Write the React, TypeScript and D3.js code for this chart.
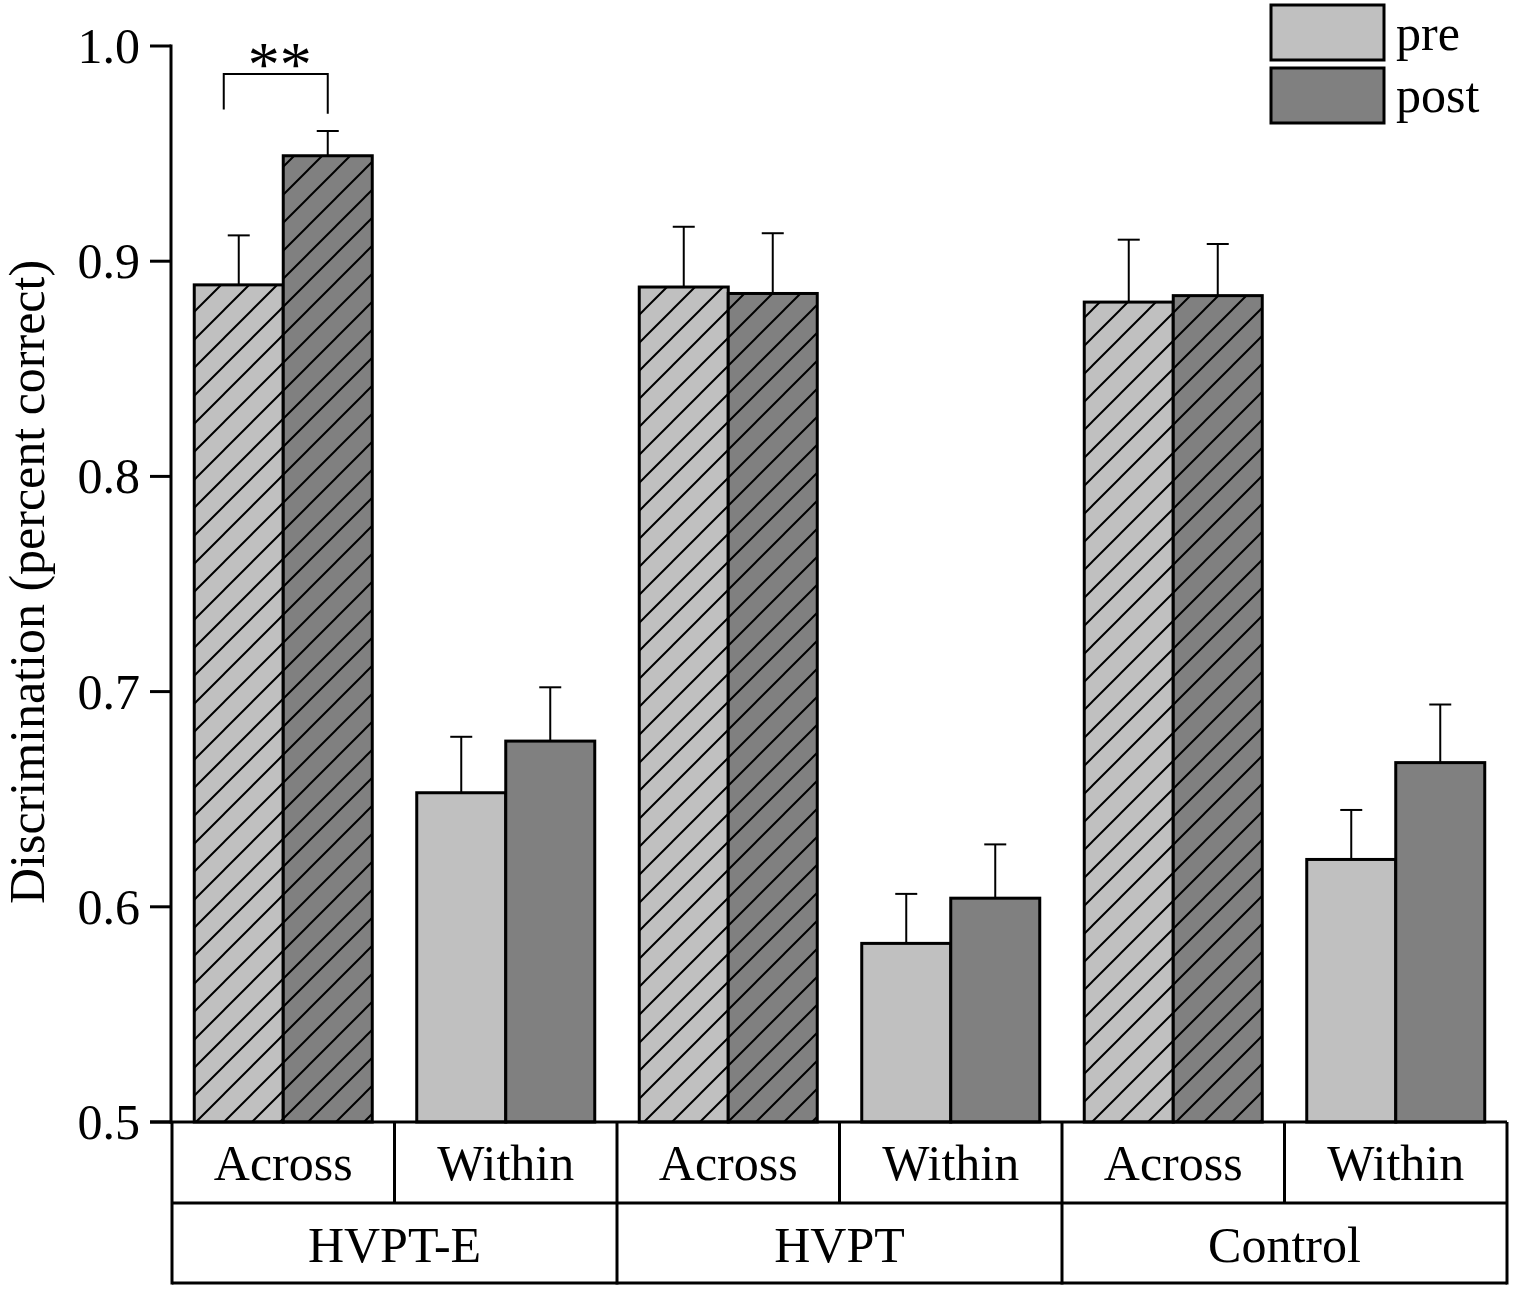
import React from "react";
import * as d3 from "d3";

const groups = ["HVPT-E", "HVPT", "Control"];
const conditions = ["Across", "Within"];
const series = ["pre", "post"];
// values per cell: order HVPT-E Across, HVPT-E Within, HVPT Across, HVPT Within, Control Across, Control Within
const preValues = [0.889, 0.653, 0.888, 0.583, 0.881, 0.622];
const preErrTop = [0.912, 0.679, 0.916, 0.606, 0.910, 0.645];
const postValues = [0.949, 0.677, 0.885, 0.604, 0.884, 0.667];
const postErrTop = [0.9605, 0.702, 0.913, 0.629, 0.908, 0.694];
const yTicks = [0.5, 0.6, 0.7, 0.8, 0.9, 1.0];
const yTitle = "Discrimination (percent correct)";
const sigLabel = "**";

const W = 1514;
const H = 1291;
const FONT = "'Liberation Serif', 'Times New Roman', serif";
const colors: Record<string, string> = { pre: "#c0c0c0", post: "#808080" };

export default function App() {
  const x0 = 172;
  const x1 = 1507;
  const yTop = 46;
  const yBot = 1122;
  const row1 = 1203;
  const row2 = 1283;
  const axisX = 171;

  const y = d3.scaleLinear().domain([0.5, 1.0]).range([yBot, yTop]);
  const cells = groups.flatMap((g) => conditions.map((c) => `${g}|${c}`));
  const xCell = d3.scaleBand<string>().domain(cells).range([x0, x1]).padding(0);
  const bw = xCell.bandwidth();
  const xSub = d3.scaleBand<string>().domain(series).range([bw * 0.1, bw * 0.9]).padding(0);
  const xGroup = d3.scaleBand<string>().domain(groups).range([x0, x1]).padding(0);

  const vals: Record<string, number[]> = { pre: preValues, post: postValues };
  const errs: Record<string, number[]> = { pre: preErrTop, post: postErrTop };

  const bars: React.ReactNode[] = [];
  cells.forEach((cell, i) => {
    const hatched = cell.endsWith("Across");
    series.forEach((s) => {
      const bx = (xCell(cell) as number) + (xSub(s) as number);
      const v = vals[s][i];
      const e = errs[s][i];
      const cx = bx + xSub.bandwidth() / 2;
      bars.push(
        <g key={cell + s}>
          <line x1={cx} x2={cx} y1={y(v)} y2={y(e)} stroke="#000" strokeWidth={2} />
          <line x1={cx - 11} x2={cx + 11} y1={y(e)} y2={y(e)} stroke="#000" strokeWidth={2} />
          <rect
            x={bx}
            y={y(v)}
            width={xSub.bandwidth()}
            height={yBot - y(v)}
            fill={hatched ? `url(#hatch-${s})` : colors[s]}
            stroke="#000"
            strokeWidth={3}
          />
        </g>
      );
    });
  });

  // significance bracket for HVPT-E Across
  const c0 = cells[0];
  const preCx = (xCell(c0) as number) + (xSub("pre") as number) + xSub.bandwidth() / 2 - 15;
  const postCx = (xCell(c0) as number) + (xSub("post") as number) + xSub.bandwidth() / 2;
  const bracketTop = y(0.987);

  return (
    <svg width={W} height={H} style={{ position: "absolute", left: 0, top: 0, background: "#fff" }} fontFamily={FONT}>
      <defs>
        {series.map((s) => (
          <pattern key={s} id={`hatch-${s}`} patternUnits="userSpaceOnUse" width={28} height={28} x={0} y={yBot}>
            <rect width={28} height={28} fill={colors[s]} />
            <path d="M0,28 L28,0 M-7,7 L7,-7 M21,35 L35,21" stroke="#000" strokeWidth={2} />
          </pattern>
        ))}
      </defs>
      <rect x={0} y={0} width={W} height={H} fill="#fff" />
      {bars}
      {/* y axis */}
      <line x1={axisX} x2={axisX} y1={yTop - 1.5} y2={yBot + 1.5} stroke="#000" strokeWidth={3} />
      {yTicks.map((t) => (
        <g key={t}>
          <line x1={150} x2={axisX} y1={y(t)} y2={y(t)} stroke="#000" strokeWidth={3} />
          <text x={140} y={y(t) + 17} fontSize={50} textAnchor="end">
            {d3.format(".1f")(t)}
          </text>
        </g>
      ))}
      <text transform={`translate(44, 582) rotate(-90)`} fontSize={50} textAnchor="middle">
        {yTitle}
      </text>
      {/* table */}
      <line x1={150} x2={x1} y1={yBot} y2={yBot} stroke="#000" strokeWidth={3} />
      <line x1={x0} x2={x1} y1={row1} y2={row1} stroke="#000" strokeWidth={3} />
      <line x1={x0} x2={x1} y1={row2} y2={row2} stroke="#000" strokeWidth={3} />
      <line x1={x0} x2={x0} y1={yBot} y2={row2 + 1.5} stroke="#000" strokeWidth={3} />
      {cells.map((cell) => (
        <g key={"t" + cell}>
          <line x1={(xCell(cell) as number) + bw} x2={(xCell(cell) as number) + bw} y1={yBot} y2={row1} stroke="#000" strokeWidth={3} />
          <text x={(xCell(cell) as number) + bw / 2} y={1180} fontSize={50} textAnchor="middle">
            {cell.split("|")[1]}
          </text>
        </g>
      ))}
      {groups.map((g) => (
        <g key={"g" + g}>
          <line
            x1={(xGroup(g) as number) + xGroup.bandwidth()}
            x2={(xGroup(g) as number) + xGroup.bandwidth()}
            y1={row1}
            y2={row2 + 1.5}
            stroke="#000"
            strokeWidth={3}
          />
          <text x={(xGroup(g) as number) + xGroup.bandwidth() / 2} y={1262} fontSize={50} textAnchor="middle">
            {g}
          </text>
        </g>
      ))}
      {/* significance */}
      <path
        d={`M${preCx},${y(0.9705)} V${bracketTop} H${postCx} V${y(0.9685)}`}
        fill="none"
        stroke="#000"
        strokeWidth={2}
      />
      <text x={(preCx + postCx) / 2 + 4} y={86} fontSize={64} textAnchor="middle">
        {sigLabel}
      </text>
      {/* legend */}
      {series.map((s, i) => (
        <g key={"l" + s}>
          <rect x={1271} y={5 + i * 63} width={113} height={55} fill={colors[s]} stroke="#000" strokeWidth={3} />
          <text x={1396} y={50 + i * 62} fontSize={50}>
            {s}
          </text>
        </g>
      ))}
    </svg>
  );
}
